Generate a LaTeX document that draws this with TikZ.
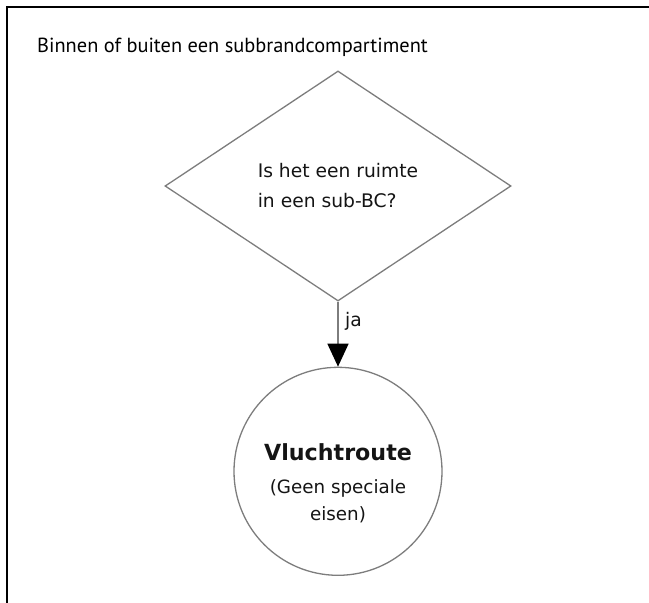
\documentclass[tikz,border=0pt]{standalone}
\usepackage{fontspec}
\newfontfamily\kopfont{PT Sans}
\newfontfamily\vdfont{DejaVu Sans}
\usepackage{xcolor}
\definecolor{vrInk}{RGB}{20,20,20}
\definecolor{vrLine}{RGB}{125,125,125}
\usepackage{tikz}
\usetikzlibrary{positioning,arrows.meta,shapes.geometric}
\tikzset{
  vr-vraag/.style={diamond,draw=vrLine,line width=1.3pt,aspect=1.5,inner sep=0pt,
    minimum width=346pt,minimum height=230pt,text=vrInk,align=left,
    font=\vdfont\fontsize{18.7}{30}\selectfont},
  vr-eind/.style={circle,draw=vrLine,line width=1.3pt,inner sep=0pt,minimum size=208pt,
    text=vrInk,align=center,font=\vdfont\fontsize{18.3}{27}\selectfont},
  vr-arrow/.style={-{Triangle[length=23pt,width=21pt,color=black]},vrLine,line width=1.5pt},
}

\begin{document}
\begin{tikzpicture}[x=1pt,y=-1pt]
  \useasboundingbox (0,0) rectangle (649,603);
  % kader
  \draw[line width=2pt] (7,603) -- (7,7) -- (649,7);

  % titel
  \node[anchor=base west,inner sep=0pt,font=\kopfont\fontsize{20.4}{22}\selectfont] (titel) at (37,52)
    {Binnen of buiten een subbrandcompartiment};

  % beslissing
  \node[vr-vraag] (vraag) at (338,186) {Is het een ruimte\\in een sub-BC?};

  % uitkomst
  \node[vr-eind,below=65pt of vraag] (route)
    {\rule{0pt}{40pt}{\fontsize{22.2}{30}\selectfont\bfseries Vluchtroute}\\[6pt](Geen speciale\\eisen)};

  % pijl
  \draw[vr-arrow] (vraag) -- node[right=3pt,pos=0.3,font=\vdfont\fontsize{18.7}{20}\selectfont,text=vrInk]{ja} (route);
\end{tikzpicture}
\end{document}
